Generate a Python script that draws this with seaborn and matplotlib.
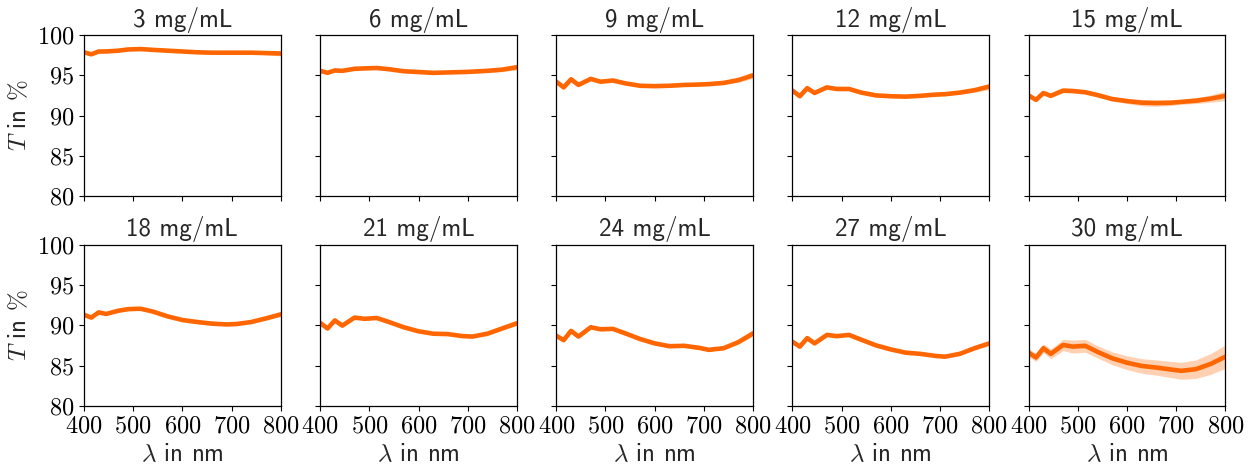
import numpy as np
import matplotlib
matplotlib.use("Agg")
import matplotlib.pyplot as plt
import seaborn as sns

wavelength = [400, 415, 430, 445, 470, 490, 515, 540, 570, 600, 630, 660, 690, 710, 740, 770, 800]

concentrations = ["3 mg/mL", "6 mg/mL", "9 mg/mL", "12 mg/mL", "15 mg/mL",
                  "18 mg/mL", "21 mg/mL", "24 mg/mL", "27 mg/mL", "30 mg/mL"]

# mean transmission in %
t_3 = [97.85, 97.6, 97.95, 97.95, 98.05, 98.2, 98.25, 98.15, 98.05, 97.95, 97.85, 97.8, 97.8, 97.8, 97.8, 97.75, 97.7]
t_6 = [95.55, 95.3, 95.6, 95.55, 95.8, 95.85, 95.9, 95.75, 95.5, 95.4, 95.3, 95.35, 95.4, 95.45, 95.55, 95.7, 96.0]
t_9 = [94.2, 93.5, 94.5, 93.8, 94.55, 94.2, 94.35, 94.0, 93.7, 93.65, 93.7, 93.8, 93.85, 93.9, 94.05, 94.4, 95.0]
t_12 = [93.1, 92.4, 93.4, 92.8, 93.5, 93.3, 93.3, 92.85, 92.5, 92.4, 92.35, 92.45, 92.6, 92.65, 92.85, 93.15, 93.6]
t_15 = [92.5, 91.95, 92.8, 92.45, 93.1, 93.05, 92.9, 92.55, 92.05, 91.8, 91.6, 91.55, 91.6, 91.7, 91.85, 92.1, 92.45]
t_18 = [91.3, 90.95, 91.6, 91.4, 91.8, 92.0, 92.05, 91.7, 91.1, 90.65, 90.4, 90.2, 90.1, 90.15, 90.4, 90.85, 91.35]
t_21 = [90.3, 89.6, 90.6, 89.95, 90.95, 90.8, 90.9, 90.4, 89.75, 89.25, 88.95, 88.9, 88.65, 88.6, 88.95, 89.6, 90.25]
t_24 = [88.7, 88.15, 89.3, 88.6, 89.75, 89.5, 89.55, 89.0, 88.3, 87.75, 87.4, 87.45, 87.2, 86.95, 87.15, 87.9, 89.0]
t_27 = [87.95, 87.35, 88.4, 87.75, 88.8, 88.65, 88.8, 88.2, 87.5, 87.0, 86.6, 86.45, 86.2, 86.1, 86.45, 87.15, 87.75]
t_30 = [86.6, 86.0, 87.15, 86.45, 87.55, 87.35, 87.45, 86.7, 85.9, 85.35, 84.95, 84.75, 84.5, 84.35, 84.55, 85.2, 86.1]

# half width of the shaded spread
hw_3 = [0.1, 0.1, 0.1, 0.1, 0.1, 0.1, 0.1, 0.1, 0.1, 0.1, 0.1, 0.1, 0.1, 0.15, 0.15, 0.2, 0.3]
hw_6 = [0.1, 0.1, 0.1, 0.1, 0.1, 0.1, 0.1, 0.1, 0.1, 0.1, 0.1, 0.1, 0.1, 0.15, 0.2, 0.25, 0.35]
hw_9 = [0.1, 0.1, 0.1, 0.1, 0.1, 0.1, 0.1, 0.1, 0.1, 0.1, 0.1, 0.15, 0.15, 0.15, 0.2, 0.25, 0.4]
hw_12 = [0.1, 0.1, 0.1, 0.1, 0.1, 0.1, 0.1, 0.1, 0.1, 0.1, 0.1, 0.1, 0.15, 0.15, 0.2, 0.25, 0.4]
hw_15 = [0.2, 0.2, 0.2, 0.2, 0.25, 0.25, 0.25, 0.25, 0.25, 0.3, 0.4, 0.4, 0.35, 0.3, 0.35, 0.45, 0.6]
hw_18 = [0.1, 0.1, 0.1, 0.1, 0.1, 0.1, 0.1, 0.1, 0.1, 0.1, 0.1, 0.1, 0.1, 0.1, 0.15, 0.2, 0.25]
hw_21 = [0.1, 0.1, 0.1, 0.1, 0.1, 0.1, 0.1, 0.1, 0.1, 0.1, 0.1, 0.1, 0.1, 0.1, 0.15, 0.2, 0.3]
hw_24 = [0.1, 0.1, 0.1, 0.1, 0.1, 0.1, 0.1, 0.1, 0.1, 0.1, 0.1, 0.1, 0.1, 0.1, 0.15, 0.2, 0.35]
hw_27 = [0.1, 0.1, 0.1, 0.1, 0.1, 0.1, 0.1, 0.1, 0.1, 0.1, 0.1, 0.1, 0.1, 0.1, 0.15, 0.2, 0.3]
hw_30 = [0.5, 0.5, 0.55, 0.6, 0.7, 0.8, 0.8, 0.75, 0.8, 0.85, 0.9, 0.95, 1.0, 1.05, 1.15, 1.3, 1.45]

curves = [t_3, t_6, t_9, t_12, t_15, t_18, t_21, t_24, t_27, t_30]
spreads = [hw_3, hw_6, hw_9, hw_12, hw_15, hw_18, hw_21, hw_24, hw_27, hw_30]

x_ticks = [400, 500, 600, 700, 800]
y_ticks = [80, 85, 90, 95, 100]

sns.set_style("ticks")
plt.rcParams["font.family"] = ["cmr10", "DejaVu Sans"]
plt.rcParams["mathtext.fontset"] = "cm"
plt.rcParams["axes.formatter.use_mathtext"] = True
plt.rcParams["axes.edgecolor"] = "black"
plt.rcParams["xtick.color"] = "black"
plt.rcParams["ytick.color"] = "black"

line_color = "#ff6600"

fig, axes = plt.subplots(2, 5, figsize=(12.53, 4.66), dpi=100, sharex=True, sharey=True)
fig.subplots_adjust(left=0.067, right=0.978, top=0.925, bottom=0.129, wspace=0.2, hspace=0.3)

for i, ax in enumerate(axes.flat):
    y = np.array(curves[i])
    hw = np.array(spreads[i])
    ax.fill_between(wavelength, y - hw, y + hw, color=line_color, alpha=0.3, lw=0)
    sns.lineplot(x=wavelength, y=y, ax=ax, color=line_color, lw=3.3)
    ax.set_title(concentrations[i], fontfamily="cmss10", fontsize=18)
    ax.set_xlim(400, 800)
    ax.set_ylim(80, 100)
    ax.set_xticks(x_ticks)
    ax.set_yticks(y_ticks)
    ax.tick_params(labelsize=17.5)
    for side in ["top", "right", "left", "bottom"]:
        ax.spines[side].set_visible(True)
        ax.spines[side].set_linewidth(0.9)
    ax.set_xlabel("")
    ax.set_ylabel("")

for ax in axes[1]:
    ax.set_xlabel(r"$\lambda$ in nm", fontfamily="cmss10", fontsize=18)
for ax in axes[:, 0]:
    ax.set_ylabel(r"$T$ in $\%$", fontfamily="cmss10", fontsize=18)

fig.savefig("out.png", dpi=100)
